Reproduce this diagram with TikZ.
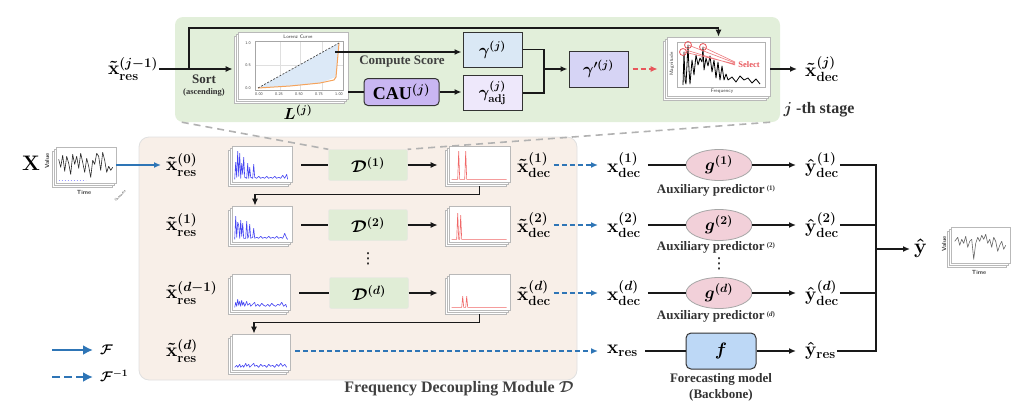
\RequirePackage{fix-cm}
\documentclass[tikz,border=0pt]{standalone}
\usepackage{fontspec}
\setmainfont{Liberation Serif}
\newfontfamily\djv{DejaVu Sans}
\usepackage{amsmath}
\usepackage{bm}
\usetikzlibrary{arrows.meta,shapes.geometric,fit,calc}
\definecolor{greenbg}{HTML}{E2EFDA}
\definecolor{peachbg}{HTML}{F8EFE8}
\definecolor{dboxc}{HTML}{E0EDD6}
\definecolor{gambox}{HTML}{DAE8F5}
\definecolor{adjbox}{HTML}{EEE8FB}
\definecolor{gpbox}{HTML}{D6D4F5}
\definecolor{caubox}{HTML}{C9B6F2}
\definecolor{gell}{HTML}{F2D0D9}
\definecolor{fboxc}{HTML}{BDD8F6}
\definecolor{fblue}{HTML}{2E75B6}
\definecolor{sred}{HTML}{E8565B}
\definecolor{specblue}{HTML}{4646F2}
\definecolor{specred}{HTML}{F06868}
\definecolor{lorfill}{HTML}{DCE9F7}
\definecolor{lororange}{HTML}{F5A35C}
\newcommand\stackpage[5]{%
  \draw[page] (#2-4,#3+4) rectangle (#4-4,#5+4);
  \draw[page] (#2-2,#3+2) rectangle (#4-2,#5+2);
  \node[page, fit={(#2,#3) (#4,#5)}, inner sep=0pt] (#1) {};}
\newcommand\specplot[3]{\begin{scope}[shift={(#1.south west)},yscale=-1]
  \draw[#2, line width=0.6pt, line join=round] plot coordinates {#3};\end{scope}}
\begin{document}
\begin{tikzpicture}[x=1pt,y=-1pt,
  line/.style={line width=1.6pt, black!90},
  arr/.style={line, -{Latex[length=7pt,width=6pt]}},
  fwd/.style={line width=1.6pt, fblue, -{Latex[length=7pt,width=6pt]}},
  inv/.style={fwd, dash pattern=on 5pt off 3pt},
  lbl/.style={inner sep=1pt, font=\fontsize{19}{21}\selectfont\boldmath},
  txt/.style={inner sep=0pt, font=\fontsize{13}{15}\selectfont\bfseries, text=black!80},
  tiny/.style={inner sep=0pt, font=\fontsize{5}{6}\selectfont\sffamily, text=black!75},
  page/.style={draw=gray!55, fill=white, line width=0.6pt},
  dstyle/.style={rectangle, fill=dboxc, draw=black!10, rounded corners=2pt, minimum width=79pt, minimum height=31pt, font=\fontsize{17}{19}\selectfont\boldmath},
  gstyle/.style={ellipse, fill=gell, draw=gray!70, line width=0.8pt, minimum width=66pt, minimum height=31pt, inner sep=0pt, font=\fontsize{17}{19}\selectfont\boldmath},
  sbox/.style={rectangle, draw=black!80, line width=1pt, minimum width=59pt, minimum height=35pt, inner sep=0pt, font=\fontsize{16}{18}\selectfont\boldmath},
  vdot/.style={inner sep=0pt, font=\djv\fontsize{15}{17}\selectfont},
  gray dash/.style={line width=1.6pt, gray!60, dash pattern=on 7pt off 5pt}]
\useasboundingbox (0,0) rectangle (1024,410);

% ---------- backgrounds ----------
\node[fill=peachbg, draw=black!12, line width=0.8pt, rounded corners=10pt, inner sep=0pt, fit={(139,137) (577,380)}] (fdm) {};
\node[fill=greenbg, rounded corners=8pt, inner sep=0pt, fit={(175,17) (780,122)}] (stage) {};

% ---------- top stage ----------
\node[lbl] (xj) at (133,69) {$\tilde{\mathbf{x}}_{\mathbf{res}}^{(j-1)}$};
\stackpage{lz}{238}{32}{348}{99}
\draw[gray!25, line width=0.4pt] (280,41) -- (280,90) (300,41) -- (300,90) (322,41) -- (322,90) (255,65) -- (343,65);
\fill[lorfill] (258,88) -- (339,43) -- (336,77) -- (320,83) -- (290,86) -- cycle;
\draw[lororange, line width=1pt] (258,88) -- (290,86) -- (320,83) -- (334,80) -- (336,77) -- (339,43);
\draw[black!70, line width=0.7pt, dash pattern=on 2pt off 1.5pt] (258,88) -- (339,43);
\draw[gray!70, line width=0.5pt] (255,41) rectangle (343,90);
\node[tiny] (lzt) at (298,36.5) {Lorenz Curve};
\node[tiny, font=\fontsize{4}{5}\selectfont\sffamily] (ly1) at (248,43) {1.0};
\node[tiny, font=\fontsize{4}{5}\selectfont\sffamily] (ly2) at (248,65) {0.5};
\node[tiny, font=\fontsize{4}{5}\selectfont\sffamily] (ly3) at (248,88) {0.0};
\node[tiny, font=\fontsize{4}{5}\selectfont\sffamily] (lx1) at (259,94) {0.00};
\node[tiny, font=\fontsize{4}{5}\selectfont\sffamily] (lx2) at (279,94) {0.25};
\node[tiny, font=\fontsize{4}{5}\selectfont\sffamily] (lx3) at (299,94) {0.50};
\node[tiny, font=\fontsize{4}{5}\selectfont\sffamily] (lx4) at (319,94) {0.75};
\node[tiny, font=\fontsize{4}{5}\selectfont\sffamily] (lx5) at (339,94) {1.00};
\node[lbl, font=\fontsize{16}{18}\selectfont\boldmath] (lzl) at (298,112) {$L^{(j)}$};

\node[txt] (sort) at (204,79) {Sort};
\node[txt, font=\fontsize{8.5}{10}\selectfont\bfseries] (asc) at (204,92) {(ascending)};

\node[sbox, fill=gambox] (gam) at (492.5,49.5) {$\gamma^{(j)}$};
\node[sbox, fill=adjbox] (adj) at (492.5,93) {$\gamma^{(j)}_{\mathbf{adj}}$};
\node[rectangle, rounded corners=4pt, fill=caubox, draw=black!80, line width=1pt, minimum width=75pt, minimum height=27pt, inner sep=0pt, font=\fontsize{18}{20}\selectfont\bfseries\boldmath] (cau) at (401.5,92) {CAU$^{(j)}$};
\node[sbox, fill=gpbox, minimum height=36pt] (gp) at (598.5,69) {$\gamma'^{(j)}$};
\node[txt, text=black!75] (cs) at (402,62) {Compute Score};

% magnitude plot
\stackpage{mag}{667}{37}{770}{96}
\draw[gray!60, line width=0.5pt] (677,42) rectangle (765,87);
\node[tiny, rotate=90] (magl) at (672,64) {Magnitude};
\node[tiny] (frq) at (722,91) {Frequency};
\draw[black, line width=0.8pt, line join=round] (683,85) -- (684,52) -- (685,80) -- (686,84) -- (688,45) -- (689,70) -- (690,84) -- (692,60) -- (694,75) -- (696,55) -- (698,65) -- (700,58) -- (702,62) -- (703,47) -- (704,70) -- (706,58) -- (708,66) -- (710,56) -- (712,72) -- (714,60) -- (716,78) -- (718,62) -- (720,80) -- (722,66) -- (724,80) -- (726,74) -- (728,80) -- (732,77) -- (736,82) -- (740,76) -- (744,80) -- (748,78) -- (752,83) -- (756,79) -- (760,84);
\draw[sred!80, line width=0.6pt] (684,52) -- (735,64) (688,45) -- (735,63) (703,47) -- (735,62) (686,50) -- (735,65);
\draw[sred, line width=0.8pt] (683,52) circle (3.5) (688,45) circle (3.5) (703,47) circle (3.5);
\node[inner sep=0pt, font=\fontsize{8.5}{10}\selectfont\bfseries, text=sred] (sel) at (749,65) {Select};

\node[lbl] (xdj) at (822,69) {$\tilde{\mathbf{x}}_{\mathbf{dec}}^{(j)}$};
\node[inner sep=0pt, font=\fontsize{16}{18}\selectfont\bfseries\boldmath, text=black!80] (jth) at (819,110) {$j$ -th stage};

% top connectors
\coordinate (br) at (189,69);
\coordinate (tl) at (189,28);
\coordinate (lzo) at (335,52);
\coordinate (jn) at (544,69);
\draw[arr, shorten >=5pt] (xj.east) -- (xj.east -| lz.west);
\draw[arr] (br) -- (tl) -| (mag.north);
\draw[arr, shorten >=1pt] (lzo) -- (lzo -| gam.west);
\draw[line] (lz.east |- cau.west) -- (cau.west);
\draw[arr, shorten >=1pt] (cau.east) -- (cau.east -| adj.west);
\draw[line] (gam.east) -| (jn);
\draw[line] (adj.east) -| (jn);
\draw[arr, shorten >=1pt] (jn) -- (gp.west);
\draw[line width=1.6pt, sred, dash pattern=on 5pt off 3pt, -{Latex[length=7pt,width=6pt]}, shorten <=4pt, shorten >=9pt] (gp.east) -- (gp.east -| mag.west);
\draw[arr, shorten >=7pt] (mag.east |- xdj.west) -- (xdj.west);

% ---------- input ----------
\node[lbl, font=\fontsize{21}{23}\selectfont\boldmath] (X) at (31,163) {$\mathbf{X}$};
\stackpage{xp}{56}{147}{116}{183}
\specplot{xp}{black!85}{(3,24)(5,16)(7,28)(9,12)(11,27)(13,20)(15,9)(17,29)(19,19)(21,27)(23,15)(25,30)(27,21)(29,11)(31,25)(33,17)(35,6)(37,23)(39,19)(41,30)(43,27)(45,13)(47,31)(49,23)(51,11)(53,17)(55,13)(57,16)}
\draw[blue!40, line width=0.6pt, dash pattern=on 1pt off 2pt] ([shift={(3,-3)}]xp.south west) -- ([shift={(30,-3)}]xp.south west);
\node[tiny, font=\fontsize{6}{7}\selectfont\sffamily\bfseries, rotate=90] (xv) at (47,161) {Value};
\node[tiny, font=\fontsize{6}{7}\selectfont\sffamily\bfseries] (xt) at (84,192) {Time};
\node[tiny, font=\fontsize{3.5}{4}\selectfont\sffamily, rotate=45] (xc) at (120,196) {Channels};

% ---------- left column ----------
\node[lbl, anchor=west] (xr0) at (165,165) {$\tilde{\mathbf{x}}_{\mathbf{res}}^{(0)}$};
\node[lbl, anchor=west] (xr1) at (165,225) {$\tilde{\mathbf{x}}_{\mathbf{res}}^{(1)}$};
\node[lbl, anchor=west] (xrd1) at (165,293) {$\tilde{\mathbf{x}}_{\mathbf{res}}^{(d-1)}$};
\node[lbl, anchor=west] (xrd) at (165,351) {$\tilde{\mathbf{x}}_{\mathbf{res}}^{(d)}$};

\stackpage{b0}{232}{146}{292}{182}
\specplot{b0}{specblue}{(3,3)(4,20)(5,5)(6,31)(7,6)(8,29)(9,4)(10,19)(11,8)(12,25)(13,5)(15,4)(16,19)(17,4)(18,15)(19,5)(21,4)(22,18)(23,5)(25,4)(27,6)(29,4)(31,5)(33,4)(35,6)(37,4)(39,5)(41,4)(43,6)(45,4)(47,5)(49,4)(51,7)(53,4)(55,8)(56,3)}
\stackpage{b1}{232}{206}{292}{242}
\specplot{b1}{specblue}{(3,3)(4,26)(5,5)(6,20)(7,17)(8,4)(9,22)(10,6)(11,19)(12,4)(14,4)(15,21)(16,4)(17,6)(18,18)(19,4)(21,5)(22,14)(23,4)(25,5)(27,4)(29,6)(31,4)(33,5)(35,4)(37,6)(39,4)(41,5)(43,4)(45,6)(47,4)(49,5)(51,4)(53,9)(55,4)(56,3)}
\stackpage{b2}{232}{274}{290}{310}
\specplot{b2}{specblue}{(3,3)(4,8)(5,4)(6,11)(7,5)(8,9)(9,4)(10,10)(11,5)(12,8)(13,4)(15,9)(16,5)(18,7)(19,4)(21,6)(23,8)(24,4)(26,6)(28,4)(30,7)(32,5)(34,4)(36,6)(38,4)(40,7)(42,5)(44,4)(46,6)(48,5)(50,8)(52,4)(54,6)(55,3)}
\stackpage{b3}{232}{334}{290}{370}
\specplot{b3}{specblue}{(3,3)(5,5)(6,3)(8,6)(9,3)(11,5)(12,3)(14,7)(15,4)(17,6)(18,3)(20,5)(22,7)(23,4)(25,5)(27,3)(29,6)(31,4)(33,5)(35,3)(37,6)(39,4)(41,5)(43,3)(45,6)(47,4)(49,7)(51,4)(53,6)(55,3)}

\node[dstyle] (D1) at (368,165) {$\mathcal{D}^{(1)}$};
\node[dstyle] (D2) at (368,225) {$\mathcal{D}^{(2)}$};
\node[dstyle] (Dd) at (369,293) {$\mathcal{D}^{(d)}$};
\node[vdot] (vd1) at (368,259) {⋮};

\stackpage{r1}{449}{146}{510}{182}
\specplot{r1}{specred}{(3,3)(9,3)(10,31)(11,3)(16,3)(17,31)(18,3)(58,3)}
\stackpage{r2}{449}{206}{510}{242}
\specplot{r2}{specred}{(3,3)(8,3)(9,29)(10,3)(11,3)(12,27)(13,3)(58,3)}
\stackpage{rd}{449}{274}{510}{310}
\specplot{rd}{specred}{(3,3)(13,3)(14,14)(15,3)(17,3)(18,14)(19,3)(58,3)}

\node[lbl, anchor=west] (xd1) at (516,165) {$\tilde{\mathbf{x}}_{\mathbf{dec}}^{(1)}$};
\node[lbl, anchor=west] (xd2) at (516,225) {$\tilde{\mathbf{x}}_{\mathbf{dec}}^{(2)}$};
\node[lbl, anchor=west] (xdd) at (516,293) {$\tilde{\mathbf{x}}_{\mathbf{dec}}^{(d)}$};

% dashed zoom lines
\draw[gray dash] ([xshift=7pt]stage.south west) -- (D1.north west);
\draw[gray dash] ([xshift=-10pt]stage.south east) -- (D1.north east);

% left connectors
\draw[fwd, shorten >=4pt] (xp.east |- xr0.west) -- (xr0.west);
\foreach \b/\d/\r in {b0/D1/r1, b1/D2/r2, b2/Dd/rd}{
  \draw[line, shorten <=9pt] (\b.east |- \d.west) -- (\d.west);
  \draw[arr, shorten >=11pt] (\d.east) -- (\d.east -| \r.west);
}
\draw[arr] ([yshift=-4pt]r1.south) -- ++(0,8) -| ([xshift=-7pt]b1.north);
\draw[arr] ([yshift=-4pt]rd.south) -- ++(0,8) -| ([xshift=-7pt]b3.north);

% ---------- right part ----------
\node[lbl, anchor=west] (xD1) at (606,165) {$\mathbf{x}_{\mathbf{dec}}^{(1)}$};
\node[lbl, anchor=west] (xD2) at (606,225) {$\mathbf{x}_{\mathbf{dec}}^{(2)}$};
\node[lbl, anchor=west] (xDd) at (606,293) {$\mathbf{x}_{\mathbf{dec}}^{(d)}$};
\node[lbl, anchor=west] (xres) at (606,351) {$\mathbf{x}_{\mathbf{res}}$};

\node[gstyle] (g1) at (719,165) {$g^{(1)}$};
\node[gstyle] (g2) at (719,225) {$g^{(2)}$};
\node[gstyle] (gd) at (719,293) {$g^{(d)}$};
\node[rectangle, rounded corners=5pt, fill=fboxc, draw=black!80, line width=1pt, minimum width=70pt, minimum height=36pt, inner sep=0pt, font=\fontsize{18}{20}\selectfont\boldmath] (fm) at (721,351) {$f$};

\node[txt] (a1) at (716,190) {Auxiliary predictor\,\raisebox{3pt}{\fontsize{7}{7}\selectfont(1)}};
\node[txt] (a2) at (716,247) {Auxiliary predictor\,\raisebox{3pt}{\fontsize{7}{7}\selectfont(2)}};
\node[txt] (ad) at (716,316) {Auxiliary predictor\,\raisebox{3pt}{\fontsize{7}{7}\selectfont(\textit{d})}};
\node[txt] (fc1) at (721,379) {Forecasting model};
\node[txt] (fc2) at (721,395) {(Backbone)};
\node[vdot] (vd2) at (719,264) {⋮};

\node[lbl, anchor=west] (yd1) at (804,165) {$\hat{\mathbf{y}}_{\mathbf{dec}}^{(1)}$};
\node[lbl, anchor=west] (yd2) at (804,225) {$\hat{\mathbf{y}}_{\mathbf{dec}}^{(2)}$};
\node[lbl, anchor=west] (ydd) at (804,293) {$\hat{\mathbf{y}}_{\mathbf{dec}}^{(d)}$};
\node[lbl, anchor=west] (yres) at (804,351) {$\hat{\mathbf{y}}_{\mathbf{res}}$};

\foreach \a/\b/\g/\y in {xd1/xD1/g1/yd1, xd2/xD2/g2/yd2, xdd/xDd/gd/ydd}{
  \draw[inv, shorten <=2pt, shorten >=8pt] (\a.east) -- (\a.east -| \b.west);
  \draw[line, shorten <=6pt] (\b.east) -- (\g.west);
  \draw[arr, shorten >=8pt] (\g.east) -- (\y.west);
}
\draw[inv, shorten <=5pt, shorten >=8pt] (b3.east |- xres.west) -- (xres.west);
\draw[line, shorten <=6pt] (xres.east) -- (xres.east -| fm.west);
\draw[arr, shorten >=8pt] (fm.east) -- (fm.east -| yres.west);

% merge
\coordinate (J) at (876,249);
\draw[line] (yd1.east) -| (J);
\draw[line] (yres.east) -| (J);
\draw[line] (yd2.east) -- (yd2.east -| J);
\draw[line] (ydd.east) -- (ydd.east -| J);
\node[lbl, anchor=west, font=\fontsize{21}{23}\selectfont\boldmath] (yh) at (913,248) {$\hat{\mathbf{y}}$};
\draw[arr, shorten >=3pt] (J) -- (J -| yh.west);

\stackpage{yp}{951}{227}{1010}{263}
\specplot{yp}{black!60}{(4,22)(7,26)(9,18)(11,24)(13,20)(15,27)(17,16)(19,22)(21,24)(23,4)(25,20)(27,26)(29,22)(31,28)(33,24)(35,29)(37,20)(39,24)(41,16)(43,26)(45,22)(47,12)(49,18)(51,22)(53,14)(55,18)}
\node[tiny, font=\fontsize{6}{7}\selectfont\sffamily\bfseries, rotate=90] (yv) at (944,244) {Value};
\node[tiny, font=\fontsize{6}{7}\selectfont\sffamily\bfseries] (yt) at (979,272) {Time};

% module label
\node[inner sep=0pt, font=\fontsize{16}{18}\selectfont\bfseries\boldmath, text=black!75] (fdml) at (459,389) {Frequency Decoupling Module $\mathcal{D}$};

% legend
\coordinate (l1a) at (52,350); \coordinate (l1b) at (93,350);
\coordinate (l2a) at (52,377); \coordinate (l2b) at (93,377);
\draw[line width=2.6pt, fblue, -{Latex[length=10pt,width=10pt]}] (l1a) -- (l1b);
\draw[line width=2.6pt, fblue, dash pattern=on 8pt off 4pt, -{Latex[length=10pt,width=10pt]}] (l2a) -- (l2b);
\node[inner sep=0pt, font=\fontsize{14}{16}\selectfont\boldmath, anchor=west] (lf1) at (100,350) {$\mathcal{F}$};
\node[inner sep=0pt, font=\fontsize{14}{16}\selectfont\boldmath, anchor=west] (lf2) at (100,376) {$\mathcal{F}^{-1}$};
\end{tikzpicture}
\end{document}
